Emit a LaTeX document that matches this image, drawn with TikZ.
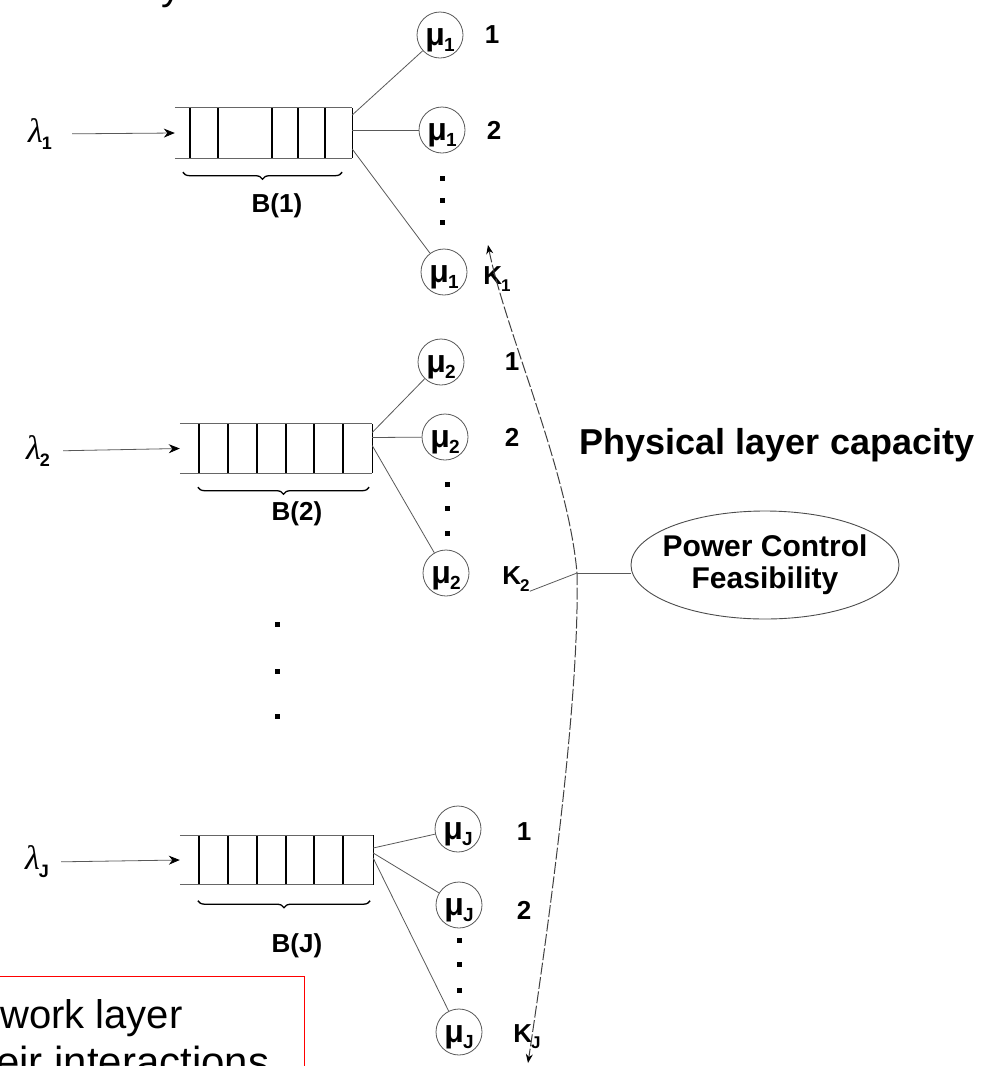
\documentclass[tikz,border=0pt]{standalone}
\usepackage{fontspec}
\setmainfont{Liberation Sans}
\newfontfamily\lamfont{Liberation Serif}
\usetikzlibrary{arrows.meta,decorations.pathreplacing,shapes.geometric,calc}
\newcommand\srvtxt[1]{{\fontsize{32}{32}\selectfont\bfseries\rule{0pt}{27pt}μ\kern-1pt\raisebox{-0.35ex}{\fontsize{19}{19}\selectfont #1}}}
\newcommand\lamtxt[1]{{\fontsize{34}{34}\selectfont\lamfont\itshape λ\kern-1pt\raisebox{-0.5ex}{\fontsize{18}{18}\selectfont\normalfont\bfseries #1}}}
\newcommand\ktxt[1]{K\kern-1pt\raisebox{-0.45ex}{\fontsize{17}{17}\selectfont #1}}
\begin{document}
\begin{tikzpicture}[x=1pt,y=-1pt,
 srv/.style={circle,draw=black!65,line width=0.8pt,minimum size=46pt,inner sep=0pt},
 lbl/.style={font=\fontsize{26}{26}\selectfont\bfseries,inner sep=0pt},
 lam/.style={inner sep=0pt},
 qbox/.style={rectangle,inner sep=0pt,minimum height=50pt},
 qline/.style={draw=black!60,line width=0.8pt},
 qdiv/.style={draw=black,line width=1.2pt},
 conn/.style={draw=black!65,line width=0.8pt},
 inarr/.style={conn,-{Stealth[length=11pt,width=9pt,black]}},
 brc/.style={decorate,decoration={brace,mirror,amplitude=7pt},draw=black,line width=1.3pt},
 big/.style={draw=black!75,line width=1pt,dash pattern=on 12pt off 2.5pt},
 dotn/.style={fill=black,inner sep=0pt,minimum size=5pt,rectangle}
]
\useasboundingbox (0,0) rectangle (982,1066);
\clip (0,0) rectangle (982,1066);

% partially visible text at the top
\node[anchor=base west,font=\fontsize{40}{40}\selectfont,inner sep=0pt] (ty) at (161,-1) {y};

% ---------- queue 1 ----------
\node[qbox,minimum width=177pt] (q1) at (263.5,133) {};
\draw[qline] (q1.north west) -- (q1.north east) (q1.south west) -- (q1.south east);
\draw[qdiv] (q1.north east) -- (q1.south east);
\foreach \x in {190,218,272,298,325} \draw[qdiv] (\x,108) -- (\x,158);
\node[lam] (lam1) at (40,134) {\lamtxt{1}};
\draw[inarr,shorten <=20pt] (lam1.east) -- (q1.west);
\draw[brc] ($(q1.south west)+(8,14)$) -- ($(q1.south east)+(-10,14)$);
\node[lbl] (b1) at (277,206) {B(1)};

\node[srv] (c11) at (440,35) {\srvtxt{1}};
\node[srv] (c12) at (442,130) {\srvtxt{1}};
\node[srv] (c1K) at (444,272) {\srvtxt{1}};
\node[lbl] (l11) at (492,35) {1};
\node[lbl] (l12) at (494,130) {2};
\node[lbl] (l1K) at (497,279) {\ktxt{1}};
\node[dotn] (d11) at (442,178) {};
\node[dotn] (d12) at (442,200) {};
\node[dotn] (d13) at (442,222) {};
\draw[conn] ([yshift=18pt]q1.east) -- (c11);
\draw[conn] ([yshift=3pt]q1.east) -- (c12);
\draw[conn] ([yshift=-16pt]q1.east) -- (c1K);

% ---------- queue 2 ----------
\node[qbox,minimum width=192pt,minimum height=49pt] (q2) at (276,448.5) {};
\draw[qline] (q2.north west) -- (q2.north east) (q2.south west) -- (q2.south east);
\draw[qdiv] (q2.north east) -- (q2.south east);
\foreach \x in {199,228,257,286,314,343} \draw[qdiv] (\x,424) -- (\x,473);
\node[lam] (lam2) at (38,451) {\lamtxt{2}};
\draw[inarr,shorten <=13pt] (lam2.east) -- (q2.west);
\draw[brc] ($(q2.south west)+(18,14)$) -- ($(q2.south east)+(-3,14)$);
\node[lbl] (b2) at (297,514) {B(2)};

\node[srv] (c21) at (441,362) {\srvtxt{2}};
\node[srv] (c22) at (445,437) {\srvtxt{2}};
\node[srv] (c2K) at (446,573) {\srvtxt{2}};
\node[lbl] (l21) at (512,362) {1};
\node[lbl] (l22) at (512,437) {2};
\node[lbl] (l2K) at (516,579) {\ktxt{2}};
\node[dotn] (d21) at (447,484) {};
\node[dotn] (d22) at (447,508) {};
\node[dotn] (d23) at (447,533) {};
\draw[conn] ([yshift=16pt]q2.east) -- (c21);
\draw[conn] ([yshift=11pt]q2.east) -- (c22);
\draw[conn] ([yshift=3pt]q2.east) -- (c2K);

% ---------- middle dots ----------
\node[dotn] (m1) at (277,624) {};
\node[dotn] (m2) at (277,671) {};
\node[dotn] (m3) at (277,716) {};

% ---------- queue J ----------
\node[qbox,minimum width=193pt,minimum height=49pt] (qJ) at (276.5,860) {};
\draw[qline] (qJ.north west) -- (qJ.north east) (qJ.south west) -- (qJ.south east);
\draw[qdiv] (qJ.north east) -- (qJ.south east);
\foreach \x in {199,228,257,286,314,343} \draw[qdiv] (\x,836) -- (\x,884);
\node[lam] (lamJ) at (37,862) {\lamtxt{J}};
\draw[inarr,shorten <=12pt] (lamJ.east) -- (qJ.west);
\draw[brc] ($(qJ.south west)+(18,16)$) -- ($(qJ.south east)+(-3,16)$);
\node[lbl] (bJ) at (297,946) {B(J)};

\node[srv] (cJ1) at (458,829) {\srvtxt{J}};
\node[srv] (cJ2) at (459,905) {\srvtxt{J}};
\node[srv] (cJK) at (459,1032) {\srvtxt{J}};
\node[lbl] (lJ1) at (524,832) {1};
\node[lbl] (lJ2) at (524,910) {2};
\node[lbl] (lJK) at (527,1037) {\ktxt{J}};
\node[dotn] (dJ1) at (459,940) {};
\node[dotn] (dJ2) at (459,964) {};
\node[dotn] (dJ3) at (459,990) {};
\draw[conn] ([yshift=12pt]qJ.east) -- (cJ1);
\draw[conn] ([yshift=7pt]qJ.east) -- (cJ2);
\draw[conn] ([yshift=2pt]qJ.east) -- (cJK);

% ---------- physical layer ----------
\node[font=\fontsize{36}{36}\selectfont\bfseries,inner sep=0pt] (plc) at (777,445) {Physical layer capacity};
\node[ellipse,draw=black!70,line width=0.9pt,minimum width=268pt,minimum height=108pt,
      inner xsep=-15pt,inner ysep=6pt,
      align=center,font=\fontsize{30}{32}\selectfont\bfseries] (pcf) at (765,565) {Power Control\\Feasibility};

\coordinate (jn) at (577,573);
\coordinate (k1tip) at (488,245);
\coordinate (kjtip) at (528,1063);
\draw[big,{Stealth[length=9pt,width=7pt,black]}-] (k1tip) .. controls (505,330) and (568,470) .. (jn);
\draw[big,-{Stealth[length=9pt,width=7pt,black]}] (jn) .. controls (580,700) and (548,930) .. (kjtip);
\draw[conn] (l2K.south east) -- (jn);
\draw[conn] (jn) -- (jn -| pcf.west);

% ---------- red box (partly visible) ----------
\node[draw=red,line width=1.3pt,minimum width=314pt,minimum height=130pt,anchor=north west,inner sep=0pt] (rb) at (-10,976) {};
\node[anchor=base west,font=\fontsize{40}{40}\selectfont,inner sep=0pt] (t1) at (0,1028) {work layer};
\node[anchor=base west,font=\fontsize{42}{42}\selectfont,inner sep=0pt] (t2) at (-4,1076) {eir interactions};
\end{tikzpicture}
\end{document}
